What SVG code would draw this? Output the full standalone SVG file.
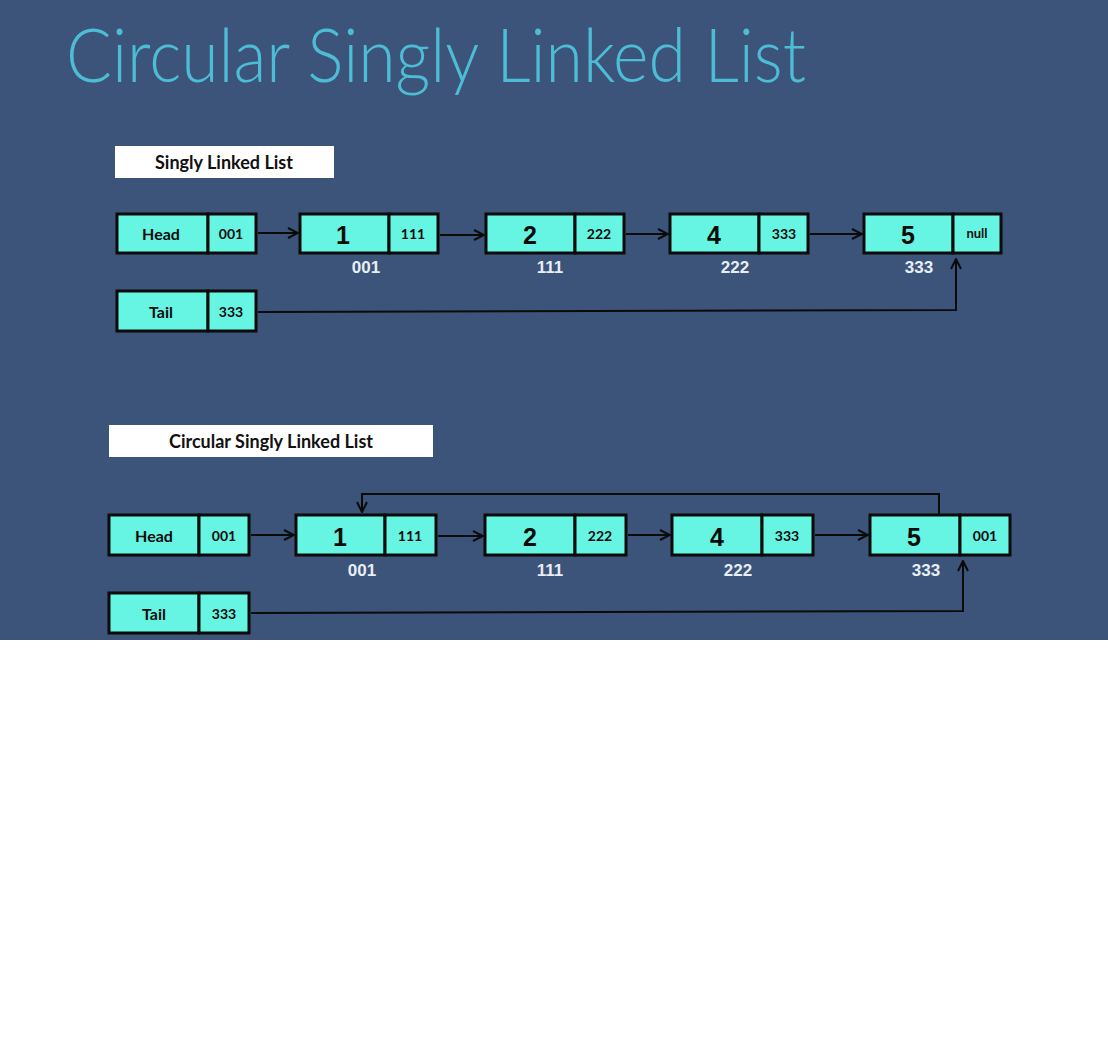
<svg xmlns="http://www.w3.org/2000/svg" width="1108" height="1056" viewBox="0 0 1108 1056">
<style>
.cell{fill:#66F5E2;stroke:#0b0b0b;stroke-width:3}
.t{font-family:Lato,"Liberation Sans",sans-serif;font-weight:700;fill:#0b0b0b;text-anchor:middle;dominant-baseline:central}
.lbl{font-size:16px}
.ptr{font-size:14px}
.big{font-family:"Liberation Sans",Arial,sans-serif;font-size:25px}
.addr{font-family:"Liberation Sans",Arial,sans-serif;font-weight:700;font-size:17px;fill:#E9EEF4;text-anchor:middle;dominant-baseline:central}
.cap{font-family:Lato,"Liberation Sans",sans-serif;font-weight:700;font-size:18px;fill:#111;text-anchor:middle;dominant-baseline:central}
.ln{fill:none;stroke:#0b0b0b;stroke-width:2}
</style>
<defs>
<marker id="ah" viewBox="0 0 12 12" refX="11" refY="6" markerWidth="12" markerHeight="12" markerUnits="userSpaceOnUse" orient="auto">
<path d="M1,1 L11,6 L1,11" fill="none" stroke="#0b0b0b" stroke-width="2"/>
</marker>
</defs>
<rect x="0" y="0" width="1108" height="1056" fill="#ffffff"/>
<rect x="0" y="0" width="1108" height="640" fill="#3C5479"/>
<text x="66" y="82" font-family="Lato,'Liberation Sans',sans-serif" font-weight="300" font-size="74" fill="#4DBDD5" textLength="740" lengthAdjust="spacingAndGlyphs">Circular Singly Linked List</text>

<!-- Section 1 -->
<g id="caption1"><rect x="115" y="146" width="219" height="32" fill="#ffffff"/><text class="cap" x="224" y="162">Singly Linked List</text></g>
<g id="head1"><rect class="cell" x="117" y="214" width="91" height="39"/><rect class="cell" x="208" y="214" width="48" height="39"/><text class="t lbl" x="161" y="233">Head</text><text class="t ptr" x="231" y="233">001</text></g>
<g id="tail1"><rect class="cell" x="117" y="291" width="91" height="40"/><rect class="cell" x="208" y="291" width="48" height="40"/><text class="t lbl" x="161" y="311">Tail</text><text class="t ptr" x="231" y="311">333</text></g>
<g id="n1a"><rect class="cell" x="300" y="214" width="89" height="39"/><rect class="cell" x="389" y="214" width="49" height="39"/><text class="t big" x="343" y="235">1</text><text class="t ptr" x="413" y="233">111</text><text class="addr" x="366" y="267">001</text></g>
<g id="n2a"><rect class="cell" x="486" y="214" width="89" height="39"/><rect class="cell" x="575" y="214" width="49" height="39"/><text class="t big" x="530" y="235">2</text><text class="t ptr" x="599" y="233">222</text><text class="addr" x="550" y="267">111</text></g>
<g id="n4a"><rect class="cell" x="670" y="214" width="89" height="39"/><rect class="cell" x="759" y="214" width="49" height="39"/><text class="t big" x="714" y="235">4</text><text class="t ptr" x="784" y="233">333</text><text class="addr" x="735" y="267">222</text></g>
<g id="n5a"><rect class="cell" x="864" y="214" width="89" height="39"/><rect class="cell" x="953" y="214" width="48" height="39"/><text class="t big" x="908" y="235">5</text><text class="t" font-size="13" x="977" y="233">null</text><text class="addr" x="919" y="267">333</text></g>

<!-- Section 2 -->
<g id="caption2"><rect x="109" y="425" width="324" height="32" fill="#ffffff"/><text class="cap" x="271" y="441">Circular Singly Linked List</text></g>
<g id="head2"><rect class="cell" x="109" y="515" width="90" height="40"/><rect class="cell" x="199" y="515" width="50" height="40"/><text class="t lbl" x="154" y="535">Head</text><text class="t ptr" x="224" y="535">001</text></g>
<g id="tail2"><rect class="cell" x="109" y="593" width="90" height="40"/><rect class="cell" x="199" y="593" width="50" height="40"/><text class="t lbl" x="154" y="613">Tail</text><text class="t ptr" x="224" y="613">333</text></g>
<g id="n1b"><rect class="cell" x="296" y="515" width="89" height="40"/><rect class="cell" x="385" y="515" width="51" height="40"/><text class="t big" x="340" y="537">1</text><text class="t ptr" x="410" y="535">111</text><text class="addr" x="362" y="570">001</text></g>
<g id="n2b"><rect class="cell" x="485" y="515" width="90" height="40"/><rect class="cell" x="575" y="515" width="51" height="40"/><text class="t big" x="530" y="537">2</text><text class="t ptr" x="600" y="535">222</text><text class="addr" x="550" y="570">111</text></g>
<g id="n4b"><rect class="cell" x="672" y="515" width="90" height="40"/><rect class="cell" x="762" y="515" width="51" height="40"/><text class="t big" x="717" y="537">4</text><text class="t ptr" x="787" y="535">333</text><text class="addr" x="738" y="570">222</text></g>
<g id="n5b"><rect class="cell" x="870" y="515" width="90" height="40"/><rect class="cell" x="960" y="515" width="50" height="40"/><text class="t big" x="914" y="537">5</text><text class="t ptr" x="985" y="535">001</text><text class="addr" x="926" y="570">333</text></g>

<g id="connectors">
<line class="ln" x1="258" y1="233" x2="298" y2="233" marker-end="url(#ah)"/>
<line class="ln" x1="440" y1="235" x2="484" y2="235" marker-end="url(#ah)"/>
<line class="ln" x1="626" y1="234" x2="668" y2="234" marker-end="url(#ah)"/>
<line class="ln" x1="810" y1="234" x2="862" y2="234" marker-end="url(#ah)"/>
<polyline class="ln" points="258,312 956,310 956,259" marker-end="url(#ah)"/>

<line class="ln" x1="251" y1="535" x2="294" y2="535" marker-end="url(#ah)"/>
<line class="ln" x1="438" y1="536" x2="483" y2="536" marker-end="url(#ah)"/>
<line class="ln" x1="628" y1="535" x2="670" y2="535" marker-end="url(#ah)"/>
<line class="ln" x1="815" y1="535" x2="868" y2="535" marker-end="url(#ah)"/>
<polyline class="ln" points="939,514 939,494 362,494 362,512" marker-end="url(#ah)"/>
<polyline class="ln" points="251,613 963,611 963,561" marker-end="url(#ah)"/>
</g>
</svg>
